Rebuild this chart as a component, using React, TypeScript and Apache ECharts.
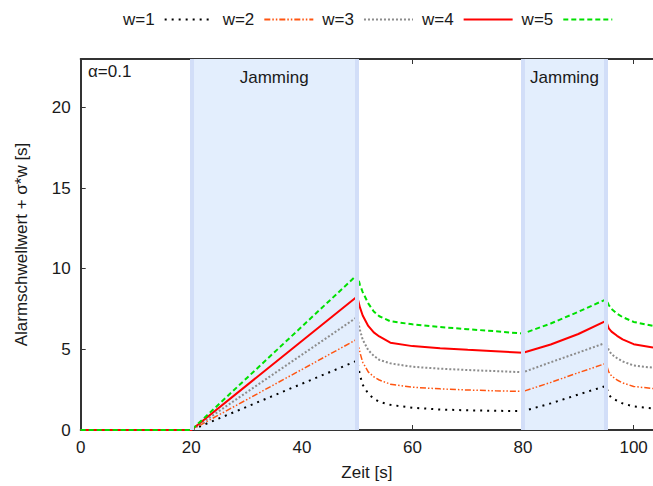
import React, { useEffect, useRef } from "react";
import * as echarts from "echarts";

const times = [0, 20, 50, 50.5, 51, 52, 53, 54, 56, 60, 65, 70, 75, 80, 85, 90, 95, 95.5, 96, 97, 98, 100, 103.5];
const w1 = [0, 0, 4.3, 3.4, 2.8, 2.25, 1.95, 1.75, 1.56, 1.38, 1.27, 1.22, 1.19, 1.17, 1.65, 2.2, 2.73, 2.2, 1.98, 1.82, 1.65, 1.46, 1.34];
const w2 = [0, 0, 5.63, 4.8, 4.2, 3.6, 3.3, 3.1, 2.84, 2.65, 2.55, 2.48, 2.43, 2.39, 2.95, 3.55, 4.13, 3.6, 3.35, 3.1, 2.92, 2.7, 2.57];
const w3 = [0, 0, 7.0, 6.2, 5.6, 4.95, 4.6, 4.35, 4.13, 3.92, 3.8, 3.72, 3.65, 3.58, 4.2, 4.8, 5.41, 4.95, 4.7, 4.45, 4.25, 4.0, 3.86];
const w4 = [0, 0, 8.28, 7.6, 7.1, 6.45, 6.05, 5.8, 5.41, 5.2, 5.07, 4.97, 4.88, 4.79, 5.3, 5.95, 6.76, 6.3, 6.1, 5.84, 5.62, 5.32, 5.12];
const w5 = [0, 0, 9.62, 9.0, 8.55, 7.85, 7.35, 7.05, 6.74, 6.55, 6.38, 6.25, 6.12, 5.98, 6.6, 7.33, 8.1, 7.75, 7.5, 7.21, 7.0, 6.7, 6.45];
const seriesNames = ["w=1", "w=2", "w=3", "w=4", "w=5"];
const jammingStarts = [20, 80];
const jammingEnds = [50, 95];
const jammingLabel = "Jamming";

const FONT = "'Liberation Sans', Arial, Helvetica, sans-serif";
const TXT = "#1a1a1a";
const FS = 17;

export default function App() {
  const ref = useRef<HTMLDivElement>(null);
  useEffect(() => {
    if (!ref.current) return;
    const chart = echarts.init(ref.current, undefined, { renderer: "svg" });
    const all = [w1, w2, w3, w4, w5];
    const styles = [
      { color: "#000000", width: 2, type: [2, 5] },
      { color: "#ff5511", width: 1.5, type: [6, 2, 1.5, 2, 1.5, 2] },
      { color: "#8c8c8c", width: 2, type: [2, 2] },
      { color: "#ff0000", width: 2, type: "solid" },
      { color: "#00e000", width: 2, type: [5, 3] },
    ];
    const lineSeries = all.map((vals, i) => ({
      name: seriesNames[i],
      type: "line",
      symbol: "none",
      showSymbol: false,
      z: 3,
      data: times.map((t, k) => [t, vals[k]]),
      lineStyle: styles[i],
      itemStyle: { color: styles[i].color },
    }));
    const bandSeries = {
      name: "bands",
      type: "line",
      data: [],
      z: 1,
      markArea: {
        silent: true,
        itemStyle: { color: "#e3eefd" },
        label: {
          show: true,
          position: "insideTop",
          distance: 10,
          color: TXT,
          fontSize: FS,
          fontFamily: FONT,
        },
        data: jammingStarts.map((s, i) => [
          { xAxis: s, name: jammingLabel },
          { xAxis: jammingEnds[i] },
        ]),
      },
      markLine: {
        silent: true,
        symbol: "none",
        label: { show: false },
        lineStyle: { color: "#d2def8", width: 4, type: "solid" },
        data: [...jammingStarts, ...jammingEnds].map((x) => ({ xAxis: x })),
      },
    };
    const axisCommon = {
      axisLine: { show: true, lineStyle: { color: "#333", width: 2 } },
      axisTick: { show: true, inside: true, length: 5, lineStyle: { color: "#333", width: 1 } },
      splitLine: { show: false },
    };
    chart.setOption({
      animation: false,
      textStyle: { fontFamily: FONT },
      grid: { left: 80.7, right: 0, top: 59, bottom: 54 },
      legend: {
        data: seriesNames,
        top: 6,
        left: 118,
        align: "right",
        itemWidth: 49,
        itemHeight: 14,
        itemGap: 8,
        itemStyle: { opacity: 0 },
        textStyle: { fontSize: FS, color: TXT, fontFamily: FONT, padding: [0, 5, 0, 0] },
      },
      graphic: [
        {
          type: "text",
          left: 88,
          top: 63,
          style: { text: "α=0.1", fontSize: FS, fill: TXT, fontFamily: FONT },
        },
      ],
      xAxis: [
        {
          type: "value",
          min: 0,
          max: 103.5,
          interval: 20,
          position: "bottom",
          name: "Zeit [s]",
          nameLocation: "middle",
          nameGap: 34,
          nameTextStyle: { fontSize: FS, color: TXT, fontFamily: FONT },
          axisLabel: { fontSize: FS, color: TXT, margin: 9, showMaxLabel: false, fontFamily: FONT },
          ...axisCommon,
        },
        {
          type: "value",
          min: 0,
          max: 103.5,
          interval: 20,
          position: "top",
          axisLabel: { show: false },
          ...axisCommon,
        },
      ],
      yAxis: {
        type: "value",
        min: 0,
        max: 23,
        interval: 5,
        name: "Alarmschwellwert + σ*w [s]",
        nameLocation: "middle",
        nameGap: 51,
        nameTextStyle: { fontSize: FS, color: TXT, fontFamily: FONT },
        axisLabel: { fontSize: FS, color: TXT, margin: 10, showMaxLabel: false, fontFamily: FONT },
        ...axisCommon,
      },
      series: [bandSeries, ...lineSeries],
    });
    return () => chart.dispose();
  }, []);
  return <div ref={ref} style={{ width: 653, height: 486, position: "absolute", left: 0, top: 0 }} />;
}
